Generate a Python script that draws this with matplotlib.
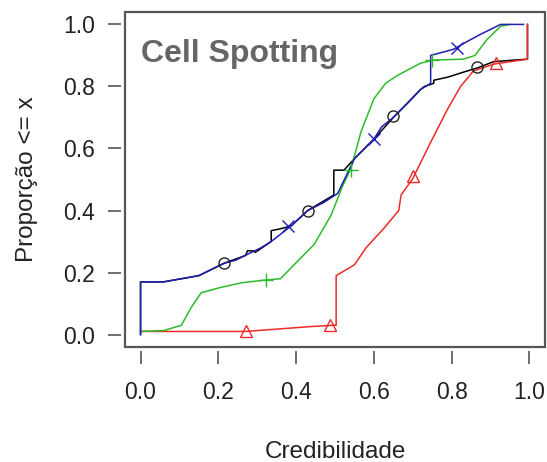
import matplotlib
matplotlib.use("Agg")
import matplotlib.pyplot as plt
from matplotlib.patches import Rectangle

plt.rcParams['font.family'] = ['Liberation Sans', 'DejaVu Sans']

# distribuicoes acumuladas (credibilidade x proporcao)
x_preto = [0, 0, 0.06, 0.15, 0.215, 0.27, 0.275, 0.29, 0.295, 0.336, 0.336, 0.356, 0.387, 0.43,
           0.497, 0.497, 0.523, 0.55, 0.60, 0.65, 0.72, 0.73, 0.754, 0.754, 0.79, 0.83, 0.867,
           0.908, 0.995, 0.995]
y_preto = [0, 0.17, 0.17, 0.19, 0.23, 0.255, 0.27, 0.27, 0.265, 0.30, 0.335, 0.34, 0.35, 0.40,
           0.45, 0.53, 0.53, 0.567, 0.63, 0.70, 0.79, 0.80, 0.81, 0.82, 0.83, 0.846, 0.86,
           0.88, 0.888, 1.0]

x_vermelho = [0, 0.27, 0.44, 0.497, 0.503, 0.503, 0.55, 0.58, 0.626, 0.664, 0.67, 0.70, 0.746,
              0.79, 0.823, 0.856, 0.908, 0.995, 0.995]
y_vermelho = [0.01, 0.01, 0.026, 0.03, 0.03, 0.19, 0.225, 0.28, 0.343, 0.40, 0.45, 0.503, 0.62,
              0.728, 0.80, 0.85, 0.872, 0.888, 1.0]

x_verde = [0, 0.06, 0.105, 0.13, 0.156, 0.2, 0.26, 0.323, 0.36, 0.387, 0.446, 0.49, 0.52, 0.541,
           0.567, 0.60, 0.63, 0.66, 0.72, 0.754, 0.83, 0.86, 0.89, 0.926, 0.95]
y_verde = [0.01, 0.013, 0.03, 0.087, 0.135, 0.15, 0.167, 0.176, 0.18, 0.215, 0.29, 0.385, 0.48,
           0.535, 0.654, 0.76, 0.81, 0.835, 0.875, 0.885, 0.888, 0.90, 0.95, 0.994, 1.0]

x_azul = [0, 0, 0.06, 0.15, 0.215, 0.245, 0.277, 0.31, 0.336, 0.387, 0.43, 0.47, 0.507, 0.55,
          0.60, 0.62, 0.65, 0.69, 0.72, 0.746, 0.746, 0.805, 0.84, 0.874, 0.926, 0.985]
y_azul = [0, 0.17, 0.17, 0.19, 0.23, 0.24, 0.26, 0.28, 0.30, 0.35, 0.40, 0.425, 0.455, 0.567,
          0.63, 0.67, 0.70, 0.75, 0.79, 0.81, 0.90, 0.92, 0.945, 0.968, 1.0, 1.0]

# pontos marcados em cada curva
mx_preto, my_preto = [0.215, 0.43, 0.65, 0.864], [0.23, 0.40, 0.705, 0.862]
mx_vermelho, my_vermelho = [0.27, 0.487, 0.70, 0.915], [0.01, 0.03, 0.51, 0.875]
mx_verde, my_verde = [0.323, 0.54, 0.75], [0.176, 0.53, 0.885]
mx_azul, my_azul = [0.38, 0.60, 0.813], [0.35, 0.63, 0.925]

ticks = [0, 0.2, 0.4, 0.6, 0.8, 1.0]
tick_labels = ["0.0", "0.2", "0.4", "0.6", "0.8", "1.0"]

fig = plt.figure(figsize=(5.47, 4.62), dpi=100)
ax = fig.add_axes([0.2285, 0.249, 0.7678, 0.725])

ax.plot(x_preto, y_preto, color="black", lw=1.1)
ax.plot(x_vermelho, y_vermelho, color="#EE2A2A", lw=1.1)
ax.plot(x_verde, y_verde, color="#2DBB2D", lw=1.1)
ax.plot(x_azul, y_azul, color="#1F1FB0", lw=1.1)

ax.plot(mx_preto, my_preto, "o", mfc="none", mec="#222222", ms=8, mew=1.0)
ax.plot(mx_vermelho, my_vermelho, "^", mfc="none", mec="#EE2A2A", ms=9, mew=1.0)
ax.plot(mx_verde, my_verde, "+", color="#2DBB2D", ms=10, mew=1.0)
ax.plot(mx_azul, my_azul, "x", color="#1F1FB0", ms=8, mew=1.0)

ax.set_xlim(-0.04, 1.04)
ax.set_ylim(-0.04, 1.04)
ax.set_xticks(ticks)
ax.set_yticks(ticks)
ax.set_xticklabels(tick_labels)
ax.set_yticklabels(tick_labels)

# eixos no estilo do R: marcas afastadas da caixa
for lado in ["left", "bottom"]:
    ax.spines[lado].set_position(("outward", 3))
for lado in ax.spines:
    ax.spines[lado].set_visible(False)
ax.add_patch(Rectangle((0, 0), 1, 1, transform=ax.transAxes, fill=False,
                       edgecolor="#555555", lw=1.6, clip_on=False))

ax.tick_params(direction="out", length=9.5, width=1.2, color="#555555",
               labelsize=16.5, labelcolor="#222222")
ax.tick_params(axis="x", pad=12)
ax.tick_params(axis="y", pad=9)

ax.set_xlabel("Credibilidade", fontsize=17.5, color="#222222", labelpad=27)
ax.set_ylabel("Proporção <= x", fontsize=17.5, color="#222222", labelpad=18)

ax.text(0.0, 0.905, "Cell Spotting", fontsize=23, fontweight="bold", color="#666666",
        va="center", ha="left")

fig.savefig("out.png", dpi=100)
